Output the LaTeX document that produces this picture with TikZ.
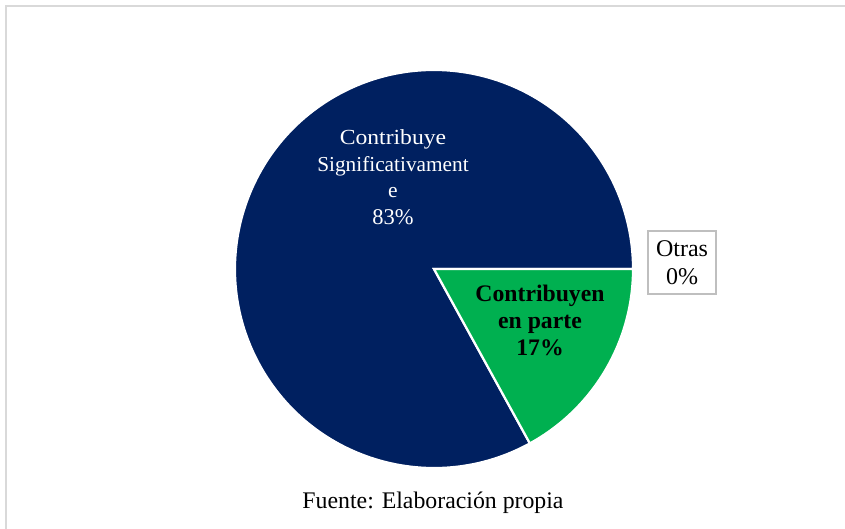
\documentclass[tikz,border=0pt]{standalone}
\usepackage{fontspec}
\setmainfont{Liberation Serif}
\definecolor{navy}{HTML}{002060}
\definecolor{grn}{HTML}{00B050}
\definecolor{frame}{HTML}{D9D9D9}
\definecolor{boxgray}{HTML}{BFBFBF}
\begin{document}
\begin{tikzpicture}[x=1pt,y=-1pt,
  slice/.style={draw=white,line width=2.2pt,line join=miter},
  lbl/.style={align=center,inner sep=0pt}]
\useasboundingbox (0,0) rectangle (845,529);
\fill[white] (0,0) rectangle (845,529);
\draw[frame,line width=1.2pt] (6,529) -- (6,6) -- (845,6);
% pie
\coordinate (c) at (434,269);
\filldraw[fill=navy,slice] (c) -- ++(61.2:199) arc[start angle=61.2,end angle=360,radius=199] -- cycle;
\filldraw[fill=grn,slice] (c) -- ++(0:199) arc[start angle=0,end angle=61.2,radius=199] -- cycle;
\node[lbl,text=white,font=\fontsize{21.5}{26.5}\selectfont] (big) at (393,177)
  {\scalebox{1.1}[1]{Contribuye}\\\fontsize{21.3}{26.5}\selectfont Significativament\\e\\\fontsize{22.5}{26.5}\selectfont 83\%};
\node[lbl,font=\fontsize{23.7}{27}\selectfont\bfseries] (part) at (540,320)
  {Contribuyen\\en parte\\17\%};
\node[draw=boxgray,line width=1.3pt,minimum width=68pt,minimum height=63pt,
  align=center,inner sep=0pt,font=\fontsize{24}{28}\selectfont] (otras) at (682,262.5)
  {Otras\\0\%};
\node[lbl,font=\fontsize{23.8}{27}\selectfont] (fuente) at (433,503) {Fuente: Elaboración propia};
\end{tikzpicture}
\end{document}
